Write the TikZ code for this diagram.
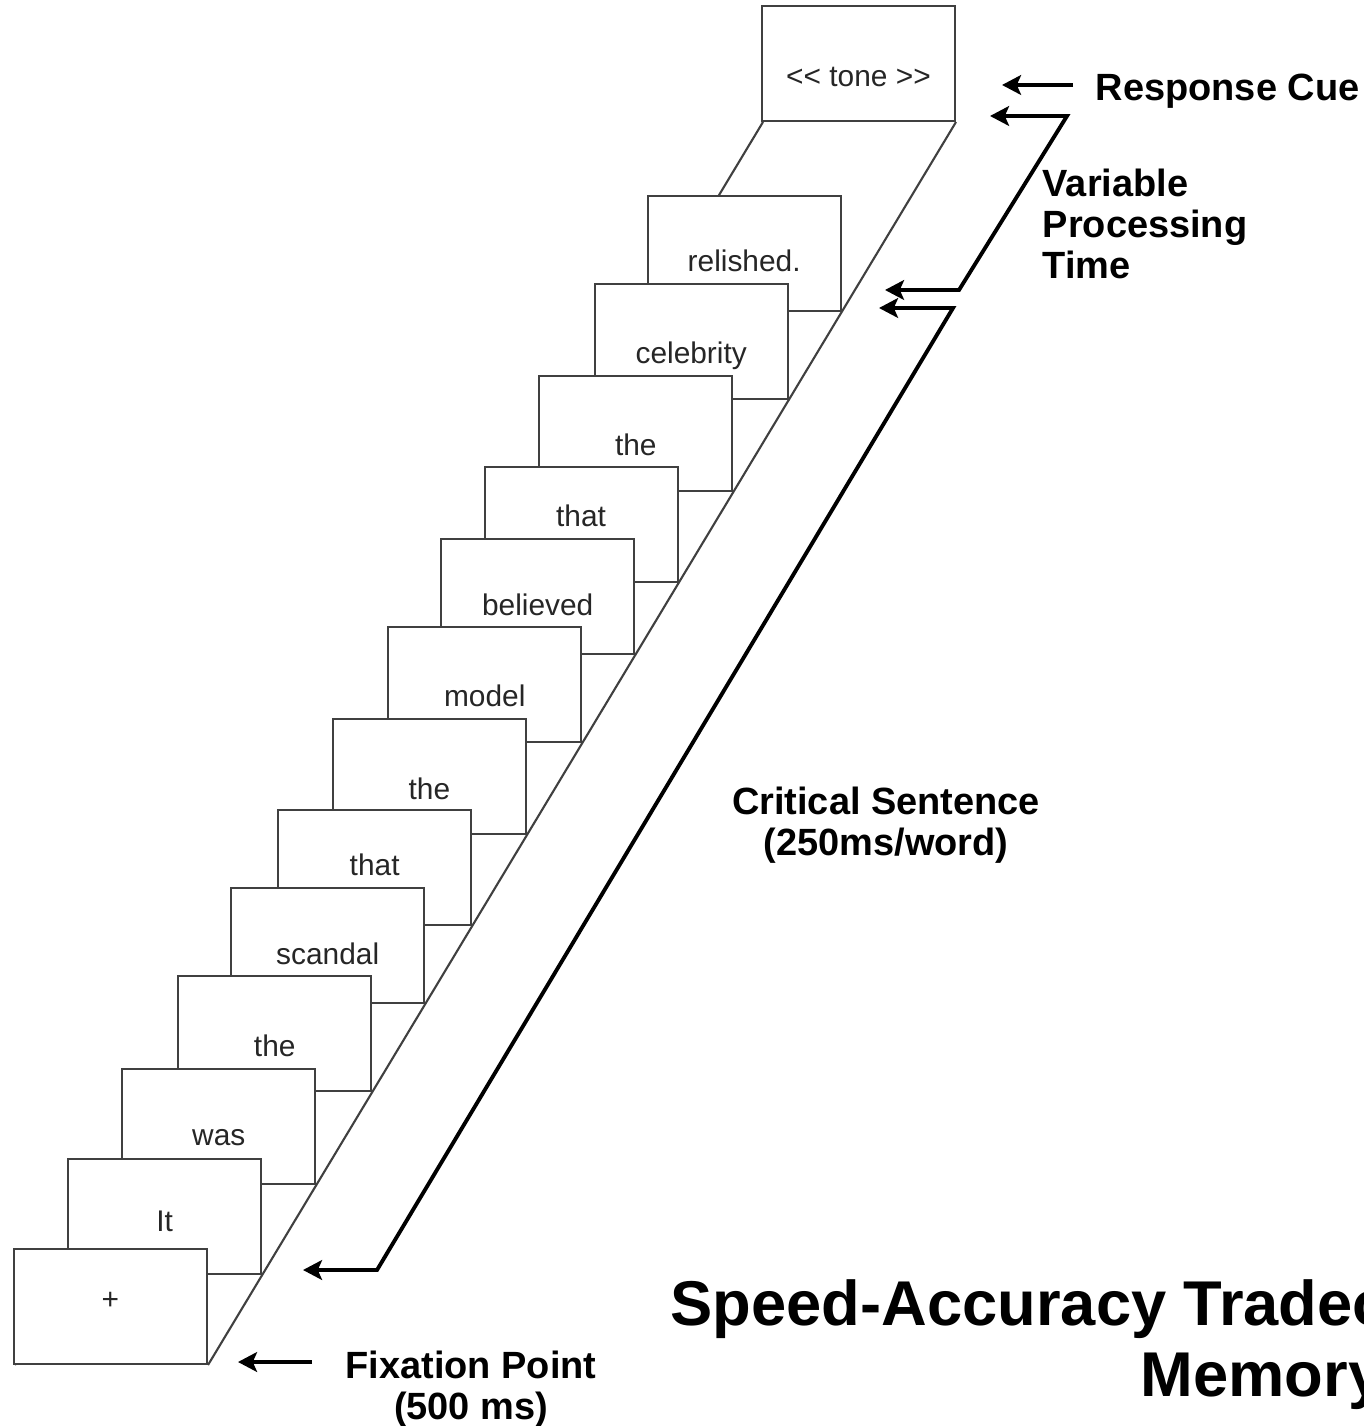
\documentclass[tikz,border=0pt]{standalone}
\usepackage{fontspec}
\setmainfont{Liberation Sans}
\usetikzlibrary{arrows.meta}

\begin{document}
\begin{tikzpicture}[
  x=0.1mm, y=-0.1mm,
  every node/.style={inner sep=0pt},
  frame/.style={draw=black!75, fill=white, line width=0.6pt, minimum width=19.3mm, minimum height=11.5mm},
  word/.style={font=\fontsize{8.5}{10}\selectfont, text=black!85, anchor=base},
  lbl/.style={font=\bfseries\fontsize{10.8}{11.7}\selectfont},
  title/.style={font=\bfseries\fontsize{18}{17}\selectfont, anchor=base west},
  rail/.style={draw=black!75, line width=0.6pt},
  arr/.style={-{Stealth[length=5.4pt, width=5.6pt, inset=1.2pt]}, line width=1.1pt},
  both/.style={{Stealth[length=5.4pt, width=5.6pt, inset=1.2pt]}-{Stealth[length=5.4pt, width=5.6pt, inset=1.2pt]}, line width=1.1pt}
]
\useasboundingbox (0,0) rectangle (1363,1426);
\clip (0,0) rectangle (1363,1426);

% Floor of the stack
\coordinate (baseL) at (15,1365);
\coordinate (baseR) at (208,1365);
\coordinate (topL) at (763,122);
\coordinate (topR) at (956,122);
\draw[rail] (baseL) -- (topL) (baseR) -- (topR);

% Slides, back to front
\foreach \txt/\yb/\yt [count=\i] in {{<\kern0pt< tone >\kern0pt>}/122/87, relished./312/272,
    celebrity/400/364, the/492/456, that/583/527, believed/655/616, model/743/706,
    the/835/799, that/926/875, scandal/1004/964, the/1092/1056, was/1185/1145,
    It/1275/1231, +/1365/1309}{
  \pgfmathsetmacro\xr{208+0.6018*(1365-\yb)}
  \node[frame, anchor=south east] (f\i) at (\xr,\yb) {};
  \node[word] (w\i) at (f\i.center |- 0,\yt) {\txt};
}

% Labels
\node[lbl, anchor=base west] (cue) at (1095,101) {Response Cue};
\node[lbl, align=left, anchor=north west] (vpt) at (1042,168) {Variable\\Processing\\Time};
\node[lbl, align=center, anchor=north] (crit) at (886,786) {Critical Sentence\\(250ms/word)};
\node[lbl, align=center, anchor=north] (fix) at (471,1350) {Fixation Point\\(500 ms)};
\node[title] (ttl1) at (670,1325) {Speed-Accuracy Tradeoff};
\node[title] (ttl2) at (1140,1396) {Memory};

% Arrows
\coordinate (cueTail) at (1073,85);
\coordinate (cueTip) at (1002,85);
\draw[arr] (cueTail) -- (cueTip);

\coordinate (vp1) at (990,116);
\coordinate (vp2) at (1067,116);
\coordinate (vp3) at (959,290);
\coordinate (vp4) at (885,290);
\draw[both] (vp1) -- (vp2) -- (vp3) -- (vp4);

\coordinate (cs1) at (879,308);
\coordinate (cs2) at (953,308);
\coordinate (cs3) at (377,1270);
\coordinate (cs4) at (303,1270);
\draw[both] (cs1) -- (cs2) -- (cs3) -- (cs4);

\coordinate (fixTail) at (312,1362);
\coordinate (fixTip) at (238,1362);
\draw[arr] (fixTail) -- (fixTip);
\end{tikzpicture}
\end{document}
